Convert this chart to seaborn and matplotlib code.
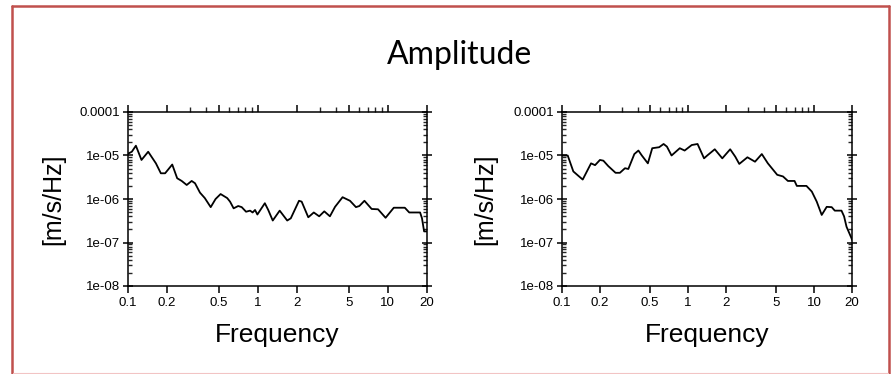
import matplotlib
matplotlib.use("Agg")
import matplotlib.pyplot as plt
from matplotlib.lines import Line2D
from matplotlib.ticker import FixedLocator, FixedFormatter, NullFormatter
import numpy as np
import pandas as pd
import seaborn as sns

# ---- data ----
left_freq = [0.1, 0.107, 0.115, 0.127, 0.143, 0.164, 0.179, 0.193, 0.219, 0.239, 0.259,
             0.283, 0.309, 0.328, 0.358, 0.39, 0.433, 0.472, 0.516, 0.58, 0.61, 0.65,
             0.705, 0.75, 0.81, 0.87, 0.91, 0.95, 0.99, 1.13, 1.2, 1.30, 1.47, 1.68,
             1.79, 2.07, 2.17, 2.44, 2.69, 2.96, 3.24, 3.58, 3.92, 4.48, 5.11, 5.68,
             6.03, 6.6, 7.5, 8.4, 9.6, 11.1, 13.5, 14.6, 17.7, 18.3, 19.0, 20.0]
left_amp = [1.1e-5, 1.22e-5, 1.68e-5, 7.9e-6, 1.22e-5, 6.6e-6, 3.9e-6, 3.9e-6, 6.2e-6,
            3.0e-6, 2.6e-6, 2.1e-6, 2.6e-6, 2.3e-6, 1.4e-6, 1.05e-6, 6.5e-7, 1.0e-6,
            1.3e-6, 1.05e-6, 8.7e-7, 6.1e-7, 6.9e-7, 6.5e-7, 5.1e-7, 5.4e-7, 4.9e-7,
            5.6e-7, 4.4e-7, 8.0e-7, 5.6e-7, 3.2e-7, 5.4e-7, 3.2e-7, 3.6e-7, 9.1e-7,
            8.7e-7, 3.8e-7, 4.9e-7, 4.0e-7, 5.2e-7, 4.0e-7, 6.6e-7, 1.1e-6, 9.1e-7,
            6.5e-7, 6.9e-7, 9.1e-7, 5.9e-7, 5.8e-7, 3.7e-7, 6.3e-7, 6.3e-7, 4.9e-7,
            4.9e-7, 3.6e-7, 1.8e-7, 1.8e-7]

right_freq = [0.1, 0.111, 0.123, 0.135, 0.146, 0.17, 0.183, 0.2, 0.213, 0.233, 0.266,
              0.288, 0.316, 0.336, 0.375, 0.404, 0.43, 0.48, 0.52, 0.59, 0.64, 0.68,
              0.74, 0.86, 0.94, 1.07, 1.19, 1.34, 1.42, 1.63, 1.87, 2.16, 2.37, 2.55,
              2.96, 3.4, 3.85, 4.3, 5.1, 5.67, 6.2, 7.0, 7.3, 8.7, 9.6, 10.5, 11.5,
              12.6, 13.8, 14.6, 16.5, 17.3, 18.1, 19.8, 20.0]
right_amp = [1.0e-5, 1.0e-5, 4.3e-6, 3.4e-6, 2.8e-6, 6.6e-6, 6.0e-6, 7.9e-6, 7.6e-6,
             5.7e-6, 4.0e-6, 4.0e-6, 5.1e-6, 4.9e-6, 1.08e-5, 1.3e-5, 1.0e-5, 6.6e-6,
             1.47e-5, 1.55e-5, 1.84e-5, 1.6e-5, 1.0e-5, 1.47e-5, 1.3e-5, 1.74e-5,
             1.84e-5, 8.6e-6, 1.0e-5, 1.39e-5, 8.6e-6, 1.39e-5, 9.4e-6, 6.4e-6, 9.1e-6,
             7.2e-6, 1.08e-5, 6.6e-6, 3.6e-6, 3.3e-6, 2.6e-6, 2.6e-6, 2.0e-6, 2.0e-6,
             1.48e-6, 8.7e-7, 4.3e-7, 6.6e-7, 6.5e-7, 5.4e-7, 5.4e-7, 4.0e-7, 2.3e-7,
             1.26e-7, 1.15e-7]

x_ticks = [0.1, 0.2, 0.5, 1, 2, 5, 10, 20]
x_tick_labels = ["0.1", "0.2", "0.5", "1", "2", "5", "10", "20"]
y_ticks = [1e-8, 1e-7, 1e-6, 1e-5, 1e-4]
y_tick_labels = ["1e-08", "1e-07", "1e-06", "1e-05", "0.0001"]

title_text = "Amplitude"
x_label = "Frequency"
y_label = "[m/s/Hz]"

# ---- figure ----
sns.set_style("white")
plt.rcParams["font.family"] = ["Liberation Sans", "DejaVu Sans"]
plt.rcParams["text.color"] = "black"
plt.rcParams["axes.labelcolor"] = "black"

W, H = 895, 374
fig = plt.figure(figsize=(W / 100, H / 100), dpi=100)
fig.patch.set_facecolor("white")

def fx(px):
    return px / W

def fy(py):
    return 1 - py / H

ax_l = fig.add_axes([fx(128), fy(286), fx(427) - fx(128), (286 - 112) / H])
ax_r = fig.add_axes([fx(562), fy(286), fx(852) - fx(562), (286 - 112) / H])

x_minor = [v * d for d in (0.1, 1, 10) for v in range(2, 10)]
x_minor = [v for v in x_minor if 0.1 < v < 20 and v not in x_ticks]
y_minor = [v * d for d in (1e-8, 1e-7, 1e-6, 1e-5) for v in range(2, 10)]

panels = ((ax_l, left_freq, left_amp, 53, 128, 427),
          (ax_r, right_freq, right_amp, 485, 562, 852))
for ax, fr, amp, ylab_x, x0, x1 in panels:
    df = pd.DataFrame({"freq": fr, "amp": amp})
    sns.lineplot(data=df, x="freq", y="amp", ax=ax, color="black", linewidth=1.3,
                 estimator=None, sort=False)
    ax.set_xscale("log")
    ax.set_yscale("log")
    ax.set_xlim(0.1, 20)
    ax.set_ylim(1e-8, 1e-4)
    ax.xaxis.set_major_locator(FixedLocator(x_ticks))
    ax.xaxis.set_major_formatter(FixedFormatter(x_tick_labels))
    ax.xaxis.set_minor_locator(FixedLocator(x_minor))
    ax.xaxis.set_minor_formatter(NullFormatter())
    ax.yaxis.set_major_locator(FixedLocator(y_ticks))
    ax.yaxis.set_major_formatter(FixedFormatter(y_tick_labels))
    ax.yaxis.set_minor_locator(FixedLocator(y_minor))
    ax.yaxis.set_minor_formatter(NullFormatter())
    for s in ax.spines.values():
        s.set_visible(True)
        s.set_color("black")
        s.set_linewidth(1.1)
    ax.tick_params(axis="x", which="major", direction="out", length=5, width=1.1,
                   top=True, bottom=True, labelsize=9.5, pad=3, colors="black")
    ax.tick_params(axis="x", which="minor", direction="out", length=3.5, width=1.0,
                   top=True, bottom=False)
    ax.tick_params(axis="y", which="major", direction="inout", length=7, width=1.1,
                   left=True, right=True, labelsize=9.5, pad=2, colors="black")
    ax.tick_params(axis="y", which="minor", direction="in", length=3, width=1.0,
                   left=True, right=True)
    ax.set_xlabel(x_label, fontsize=19, va="center", color="black")
    ax.set_ylabel(y_label, fontsize=18, va="center", color="black")
    ax.xaxis.set_label_coords(0.5, (286 - 335) / 174)
    ax.yaxis.set_label_coords((ylab_x - x0) / (x1 - x0), 0.5)
    ax.set_facecolor("white")
    ax.grid(False)

fig.text(fx(460), fy(55), title_text, ha="center", va="center", fontsize=23,
         family=["Lato", "DejaVu Sans"], color="black")

# border
red = "#c0504d"
fig.add_artist(Line2D([fx(12.5), fx(12.5)], [fy(6), fy(374)], color=red, lw=1.8))
fig.add_artist(Line2D([fx(12.5), fx(889)], [fy(6), fy(6)], color=red, lw=1.8))
fig.add_artist(Line2D([fx(889), fx(889)], [fy(6), fy(374)], color=red, lw=1.8))
fig.add_artist(Line2D([fx(13.5), fx(888)], [fy(373.3), fy(373.3)], color="#f2c4c4", lw=0.8))

fig.savefig("out.png", dpi=100, facecolor="white")
